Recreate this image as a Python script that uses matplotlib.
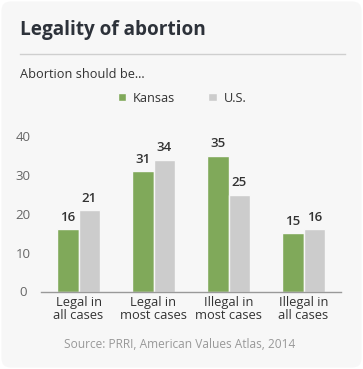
import numpy as np
import matplotlib
matplotlib.use('Agg')
import matplotlib.pyplot as plt
from matplotlib.patches import FancyBboxPatch
from matplotlib.lines import Line2D

# data
categories = ['Legal in\nall cases', 'Legal in\nmost cases', 'Illegal in\nmost cases', 'Illegal in\nall cases']
kansas = [16, 31, 35, 15]
us = [21, 34, 25, 16]
yticks = [0, 10, 20, 30, 40]

GREEN = '#80a95a'
GREY = '#cccccc'
DARK = '#2d323a'
TEXT = '#333333'

plt.rcParams['font.family'] = ['Open Sans', 'DejaVu Sans']

fig = plt.figure(figsize=(3.63, 3.69), dpi=100)
fig.patch.set_facecolor('white')

# card background
card = FancyBboxPatch((0.004, 0.004), 0.992, 0.992, boxstyle='round,pad=0,rounding_size=0.025',
                      transform=fig.transFigure, facecolor='#f7f7f7', edgecolor='none', zorder=-5)
fig.patches.append(card)

fig.text(20 / 363, 1 - 30 / 369, 'Legality of abortion', fontsize=13.7, fontweight='bold',
         color=DARK, va='center', ha='left')
fig.lines.append(Line2D([20 / 363, 345 / 363], [1 - 54 / 369, 1 - 54 / 369],
                        transform=fig.transFigure, color='#cfcfcf', lw=1))
fig.text(20 / 363, 1 - 74 / 369, 'Abortion should be...', fontsize=9.2, color=TEXT,
         va='center', ha='left')

ax = fig.add_axes([41 / 363, 1 - 291.5 / 369, 300 / 363, 155 / 369])
ax.set_facecolor('none')

x = np.arange(len(categories))
w = 0.285
b1 = ax.bar(x - w / 2, kansas, w, color=GREEN, edgecolor='#f7f7f7', linewidth=1, label='Kansas')
b2 = ax.bar(x + w / 2, us, w, color=GREY, edgecolor='#f7f7f7', linewidth=1, label='U.S.')

for bars, vals in ((b1, kansas), (b2, us)):
    for r, v in zip(bars, vals):
        ax.text(r.get_x() + r.get_width() / 2, v + 1.4, str(v), ha='center', va='bottom',
                fontsize=9.5, fontweight='semibold', color=TEXT, clip_on=False)

ax.set_xlim(-0.5, 3.5)
ax.set_ylim(0, 40)
ax.set_yticks(yticks)
ax.set_yticklabels([str(t) for t in yticks], fontsize=9.5, color='#666666', ha='center')
ax.tick_params(axis='y', length=0, pad=13)
ax.set_xticks(x)
ax.set_xticklabels(categories, fontsize=9.3, color=TEXT, linespacing=1.05)
ax.tick_params(axis='x', length=0, pad=3)

for s in ['top', 'right', 'left']:
    ax.spines[s].set_visible(False)
ax.spines['bottom'].set_color('#999999')
ax.spines['bottom'].set_linewidth(1)

leg = fig.legend(handles=[b1, b2], loc='center', bbox_to_anchor=(182 / 363, 1 - 98 / 369),
                 ncol=2, frameon=False, fontsize=9.2, handlelength=0.65, handleheight=0.65,
                 columnspacing=2.6, handletextpad=0.55)
for t in leg.get_texts():
    t.set_color(TEXT)

fig.text(180 / 363, 1 - 344 / 369, 'Source: PRRI, American Values Atlas, 2014', fontsize=8.6,
         color='#999999', ha='center', va='center')

fig.savefig('out.png', dpi=100, facecolor=fig.get_facecolor())
